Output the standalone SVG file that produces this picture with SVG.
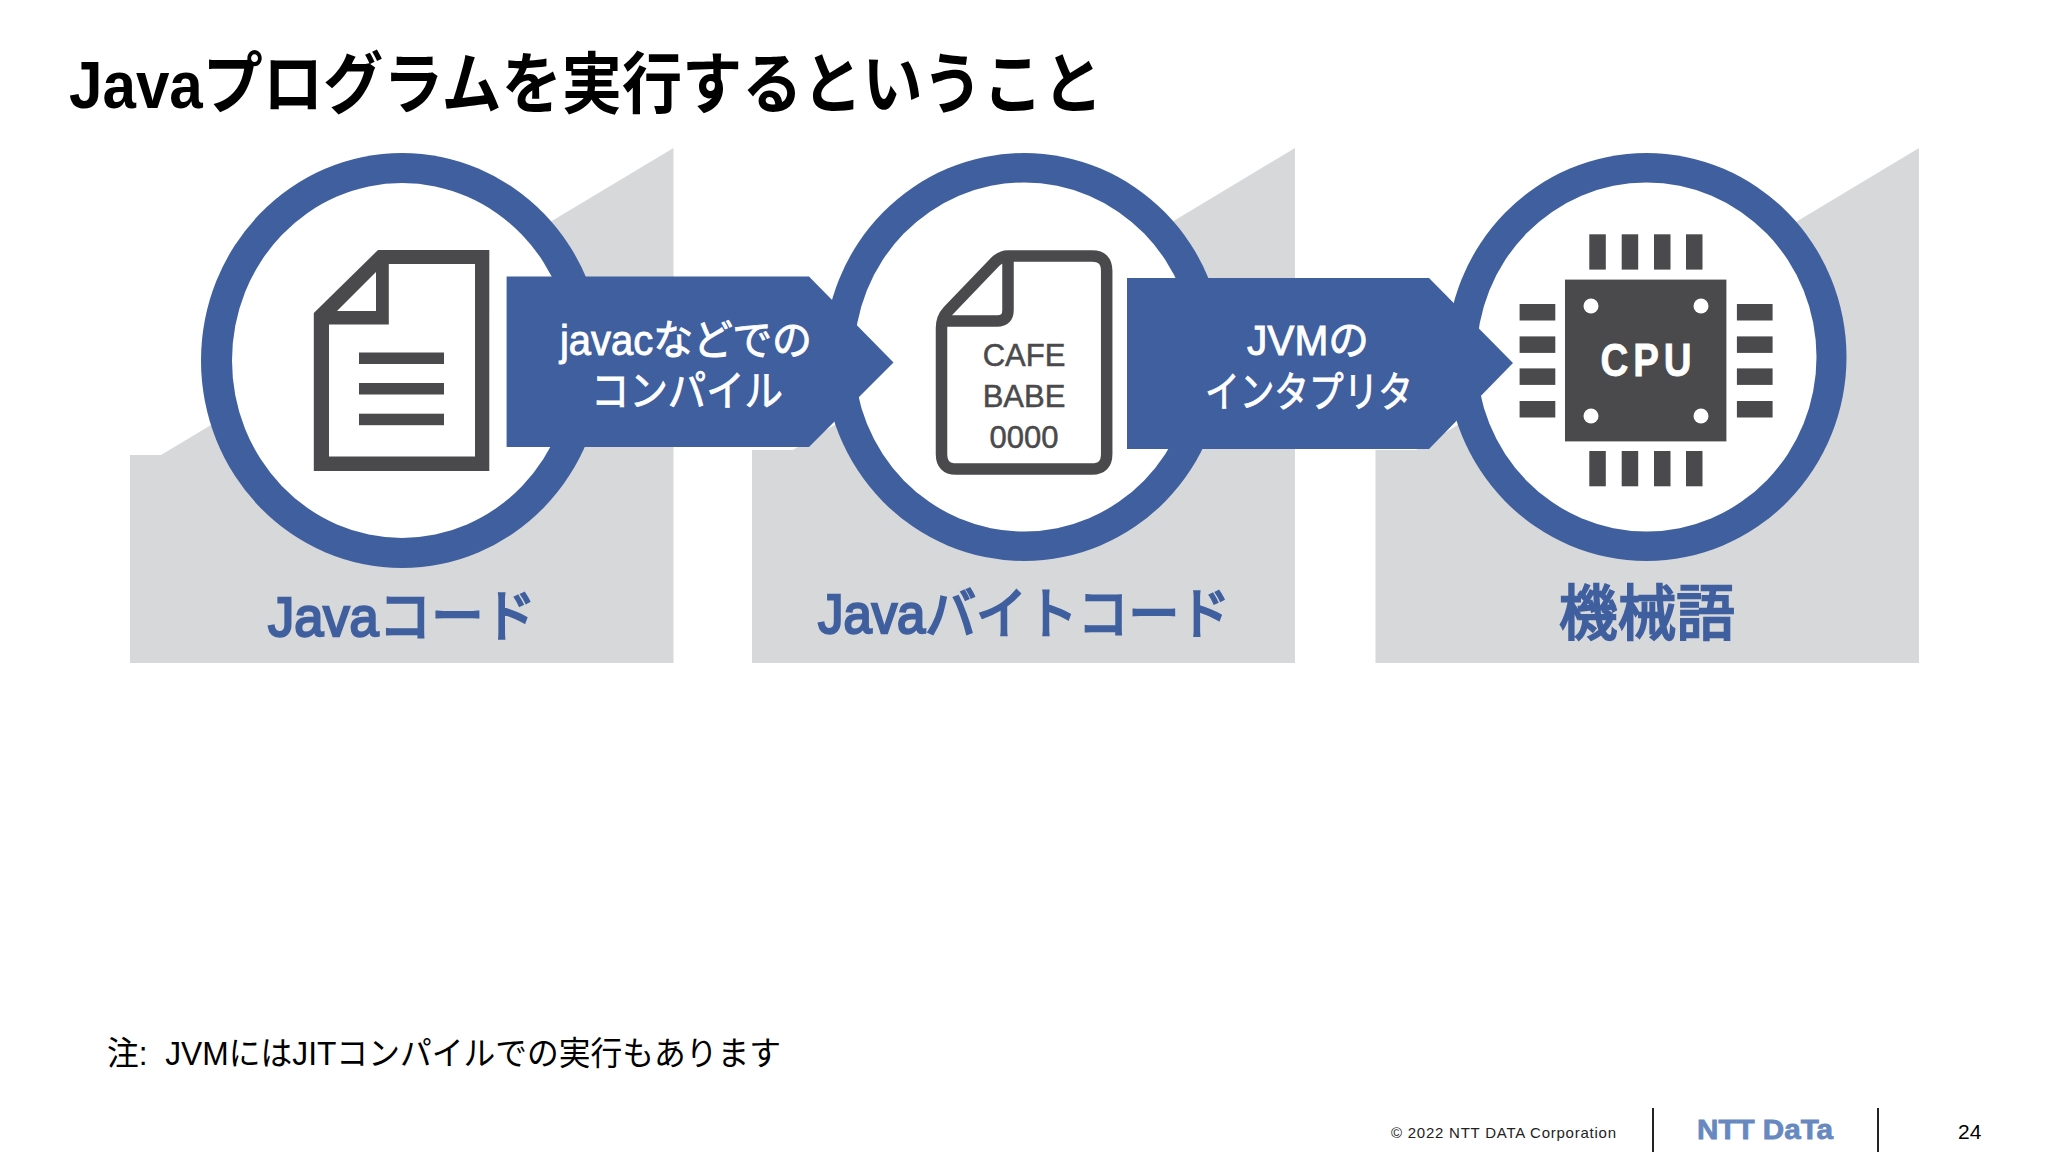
<svg xmlns="http://www.w3.org/2000/svg" width="2048" height="1152" viewBox="0 0 2048 1152">
<style>
text{font-family:"Liberation Sans","Noto Sans CJK JP",sans-serif}
.g{fill:#d7d8da}.b{fill:#3f5f9f}.d{fill:#4a4a4c}.w{fill:#fff}
.l{fill:#3f5f9f;stroke:#3f5f9f;stroke-width:2.400px;text-anchor:middle}
.a{fill:#fff;stroke:#fff;stroke-width:.9px;font-size:42px;text-anchor:middle}
.c{fill:#4a4a4c;stroke:#4a4a4c;stroke-width:.5px;font-size:31px;text-anchor:middle}
</style>
<rect width="2048" height="1152" fill="#fff"/>
<text x="69" y="108" font-size="67" font-weight="700" fill="#000" textLength="1034" lengthAdjust="spacingAndGlyphs">Javaプログラムを実行するということ</text>
<g id="node-java">
<polygon class="g" points="130,455 161,455 673.500,148 673.500,663 130,663"/>
<ellipse class="b" cx="402" cy="360.500" rx="201" ry="207.500"/>
<ellipse class="w" cx="402" cy="360.500" rx="170" ry="177.500"/>
<polygon class="d" points="378,250 489.300,250 489.300,471 313.800,471 313.800,313"/>
<polygon class="w" points="388.800,264 475,264 475,456.400 329,456.400 329,324.600 388.800,324.600"/>
<polygon class="w" points="376,272 376,311 337,311"/>
<rect class="d" x="359" y="352.500" width="85" height="11.500"/>
<rect class="d" x="359" y="383" width="85" height="11.500"/>
<rect class="d" x="359" y="413.700" width="85" height="11.500"/>
<text class="l" x="402" y="636" font-size="56" textLength="268" lengthAdjust="spacingAndGlyphs">Javaコード</text>
</g>
<g id="node-bytecode">
<polygon class="g" points="752,450 793,450 1295,148 1295,663 752,663"/>
<ellipse class="b" cx="1024" cy="357" rx="200" ry="204"/>
<ellipse class="w" cx="1024" cy="357" rx="170" ry="174.500"/>
<path d="M1008 256H1092Q1106.700 256 1106.700 271V454Q1106.700 469 1092 469H956Q941.500 469 941.500 454V328Q941.500 318 948 311L995 262Q1001 256 1008 256ZM1008 256V310Q1008 321 997 321H941.500" fill="#fff" stroke="#4a4a4c" stroke-width="11.500" stroke-linejoin="round"/>
<text class="c" x="1024" y="366">CAFE</text>
<text class="c" x="1024" y="407">BABE</text>
<text class="c" x="1024" y="448">0000</text>
<text class="l" x="1024" y="633" font-size="55" textLength="412" lengthAdjust="spacingAndGlyphs">Javaバイトコード</text>
</g>
<g id="node-machine">
<polygon class="g" points="1375.500,450 1416,450 1919,148 1919,663 1375.500,663"/>
<ellipse class="b" cx="1646.500" cy="357" rx="200" ry="204"/>
<ellipse class="w" cx="1646.500" cy="357" rx="170" ry="174.500"/>
<rect class="d" x="1565" y="279.600" width="161.400" height="161.800"/>
<g class="w"><circle cx="1591" cy="306" r="7.500"/><circle cx="1701" cy="306" r="7.500"/><circle cx="1591" cy="416" r="7.500"/><circle cx="1701" cy="416" r="7.500"/></g>
<g class="d">
<rect x="1589.300" y="234.300" width="16.500" height="35.300"/><rect x="1621.700" y="234.300" width="16.500" height="35.300"/><rect x="1654" y="234.300" width="16.500" height="35.300"/><rect x="1686" y="234.300" width="16.500" height="35.300"/>
<rect x="1589.300" y="451" width="16.500" height="35.300"/><rect x="1621.700" y="451" width="16.500" height="35.300"/><rect x="1654" y="451" width="16.500" height="35.300"/><rect x="1686" y="451" width="16.500" height="35.300"/>
<rect x="1519.600" y="304" width="35.700" height="16.500"/><rect x="1519.600" y="336.400" width="35.700" height="16.500"/><rect x="1519.600" y="368.400" width="35.700" height="16.500"/><rect x="1519.600" y="401" width="35.700" height="16.500"/>
<rect x="1736.900" y="304" width="35.700" height="16.500"/><rect x="1736.900" y="336.400" width="35.700" height="16.500"/><rect x="1736.900" y="368.400" width="35.700" height="16.500"/><rect x="1736.900" y="401" width="35.700" height="16.500"/>
</g>
<text transform="translate(1646 376) scale(.82 1)" x="3" font-size="47" font-weight="700" fill="#fff" stroke="#fff" stroke-width=".8" text-anchor="middle" letter-spacing="6">CPU</text>
<text class="l" x="1647" y="635" font-size="60" textLength="176" lengthAdjust="spacingAndGlyphs">機械語</text>
</g>
<g id="connectors">
<g id="arrow-javac">
<polygon class="b" points="506.600,276.400 809,276.400 893.500,362.500 809,447 506.600,447"/>
<text class="a" x="686" y="355" textLength="252" lengthAdjust="spacingAndGlyphs">javacなどでの</text>
<text class="a" x="687" y="406" textLength="192" lengthAdjust="spacingAndGlyphs">コンパイル</text>
</g>
<g id="arrow-jvm">
<polygon class="b" points="1127,278 1429,278 1513,363 1429,449 1127,449"/>
<text class="a" x="1308" y="355" textLength="122" lengthAdjust="spacingAndGlyphs">JVMの</text>
<text class="a" x="1309" y="407" textLength="208" lengthAdjust="spacingAndGlyphs">インタプリタ</text>
</g>
</g>
<text x="107" y="1065" font-size="33" fill="#000" style="white-space:pre" textLength="674" lengthAdjust="spacingAndGlyphs">注:  JVMにはJITコンパイルでの実行もあります</text>
<g id="footer">
<text x="1391" y="1138" font-size="15" fill="#222" textLength="225">© 2022 NTT DATA Corporation</text>
<rect x="1652" y="1108" width="2" height="44" fill="#222"/>
<rect x="1877" y="1108" width="2" height="44" fill="#222"/>
<text x="1697" y="1139" font-size="28" font-weight="700" fill="#6888c0" stroke="#6888c0" stroke-width=".8" textLength="136" lengthAdjust="spacingAndGlyphs">NTT DaTa</text>
<text x="1958" y="1139" font-size="21" fill="#000">24</text>
</g>
</svg>
